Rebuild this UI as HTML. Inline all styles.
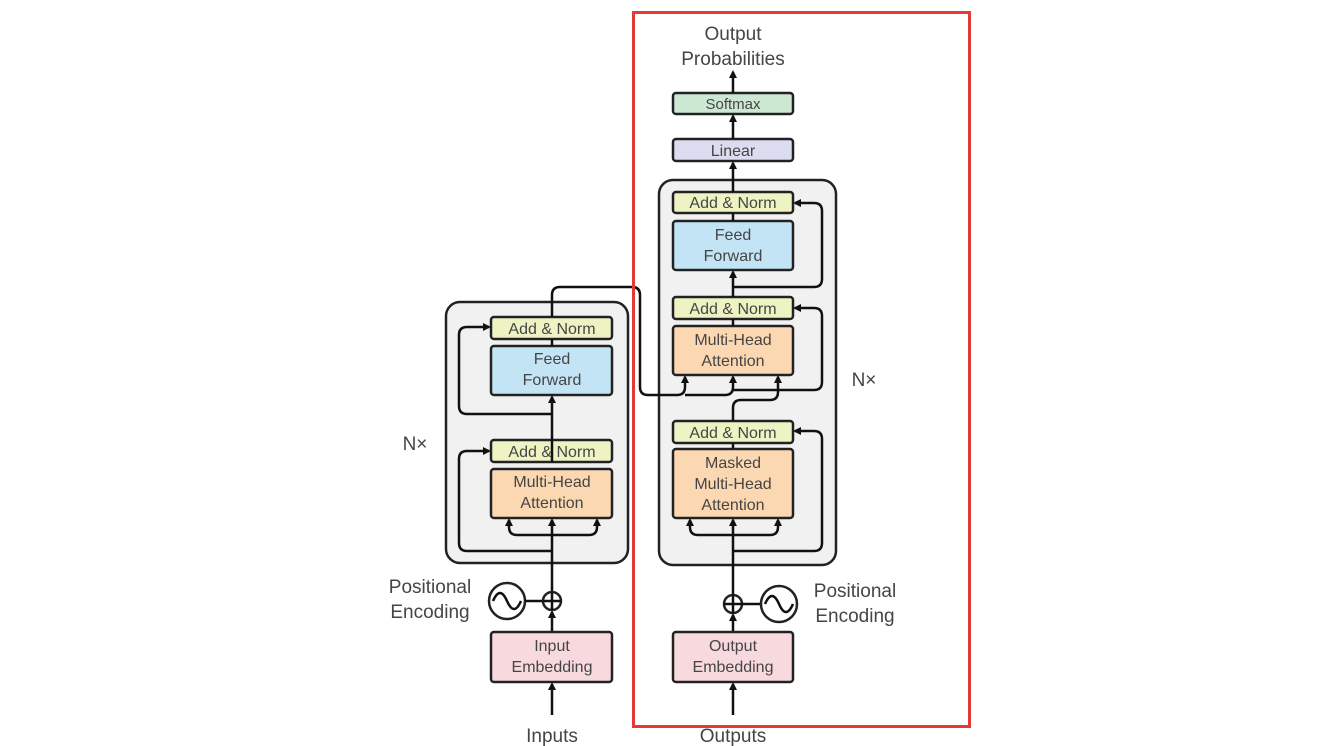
<!DOCTYPE html>
<html><head><meta charset="utf-8"><style>
html,body{margin:0;padding:0;background:#fff;}
svg{display:block;}
text{font-family:"Liberation Sans",sans-serif;font-size:16px;fill:#454545;text-anchor:middle;}
.o{font-size:19px;}
.b{stroke:#222;stroke-width:2.5;}
.l{stroke:#111;stroke-width:2.5;fill:none;}
</style></head><body>
<svg width="1322" height="746" viewBox="0 0 1322 746" xmlns="http://www.w3.org/2000/svg">
<defs><marker id="a" markerWidth="8" markerHeight="8" refX="6" refY="4" orient="auto" markerUnits="userSpaceOnUse"><path d="M0,0 L8,4 L0,8 Z" fill="#111"/></marker></defs>

<!-- encoder -->
<rect x="446" y="302" width="182" height="261" rx="14" fill="#f1f1f1" class="b"/>
<rect x="491" y="317" width="121" height="22" rx="3" fill="#eef3c4" class="b"/>
<text x="552" y="334">Add &amp; Norm</text>
<rect x="491" y="346" width="121" height="49" rx="3" fill="#c3e4f4" class="b"/>
<text x="552" y="364">Feed</text><text x="552" y="385">Forward</text>
<rect x="491" y="440" width="121" height="22" rx="3" fill="#eef3c4" class="b"/>
<text x="552" y="457">Add &amp; Norm</text>
<rect x="491" y="469" width="121" height="49" rx="3" fill="#fbd8b2" class="b"/>
<text x="552" y="487">Multi-Head</text><text x="552" y="508">Attention</text>
<path class="l" d="M552,715 V684" marker-end="url(#a)"/>
<path class="l" d="M552,632 V612" marker-end="url(#a)"/>
<path class="l" d="M552,592 V520" marker-end="url(#a)"/>
<path class="l" d="M552,535 H517 q-8,0 -8,-8 V520" marker-end="url(#a)"/>
<path class="l" d="M552,535 H589 q8,0 8,-8 V520" marker-end="url(#a)"/>
<path class="l" d="M552,551 H467 q-8,0 -8,-8 V459 q0,-8 8,-8 H489" marker-end="url(#a)"/>
<path class="l" d="M552,462 V397" marker-end="url(#a)"/>
<path class="l" d="M552,339 V346"/>
<path class="l" d="M552,414 H467 q-8,0 -8,-8 V335 q0,-8 8,-8 H489" marker-end="url(#a)"/>
<text x="415" y="450" class="o">N×</text>
<circle cx="507" cy="601" r="18" fill="#fff" class="b"/>
<path class="l" d="M493,601 q7,-16 14,0 t14,0" stroke-width="2"/>
<path class="l" d="M525,601 H543"/>
<circle cx="552" cy="601" r="9" fill="#fff" class="b"/>
<path class="l" d="M543,601 H561 M552,592 V610" stroke-width="2"/>
<text x="430" y="593" class="o">Positional</text><text x="430" y="618" class="o">Encoding</text>
<rect x="491" y="632" width="121" height="50" rx="3" fill="#f8d9de" class="b"/>
<text x="552" y="651">Input</text><text x="552" y="672">Embedding</text>
<text x="552" y="742" class="o">Inputs</text>

<!-- decoder -->
<rect x="659" y="180" width="177" height="385" rx="14" fill="#f1f1f1" class="b"/>
<rect x="673" y="93" width="120" height="21" rx="3" fill="#cce8d2" class="b"/>
<text x="733" y="109" style="font-size:15px">Softmax</text>
<rect x="673" y="139" width="120" height="22" rx="3" fill="#dcdcf0" class="b"/>
<text x="733" y="156">Linear</text>
<rect x="673" y="192" width="120" height="21" rx="3" fill="#eef3c4" class="b"/>
<text x="733" y="208">Add &amp; Norm</text>
<rect x="673" y="221" width="120" height="49" rx="3" fill="#c3e4f4" class="b"/>
<text x="733" y="240">Feed</text><text x="733" y="261">Forward</text>
<rect x="673" y="297" width="120" height="22" rx="3" fill="#eef3c4" class="b"/>
<text x="733" y="314">Add &amp; Norm</text>
<rect x="673" y="326" width="120" height="49" rx="3" fill="#fbd8b2" class="b"/>
<text x="733" y="345">Multi-Head</text><text x="733" y="366">Attention</text>
<rect x="673" y="421" width="120" height="22" rx="3" fill="#eef3c4" class="b"/>
<text x="733" y="438">Add &amp; Norm</text>
<rect x="673" y="449" width="120" height="69" rx="3" fill="#fbd8b2" class="b"/>
<text x="733" y="468">Masked</text><text x="733" y="489">Multi-Head</text><text x="733" y="510">Attention</text>
<path class="l" d="M552,317 V295 q0,-8 8,-8 H632 q8,0 8,8 V387 q0,8 8,8 H677 q8,0 8,-8 V377" marker-end="url(#a)"/>
<path class="l" d="M685,395 H725 q8,0 8,-8 V377" marker-end="url(#a)"/>
<path class="l" d="M733,93 V72" marker-end="url(#a)"/>
<path class="l" d="M733,139 V116" marker-end="url(#a)"/>
<path class="l" d="M733,192 V163" marker-end="url(#a)"/>
<path class="l" d="M733,213 V221"/>
<path class="l" d="M733,297 V272" marker-end="url(#a)"/>
<path class="l" d="M733,319 V326"/>
<path class="l" d="M733,443 V449"/>
<path class="l" d="M733,421 V408 q0,-8 8,-8 H770 q8,0 8,-8 V377" marker-end="url(#a)"/>
<path class="l" d="M733,287 H814 q8,0 8,-8 V211 q0,-8 -8,-8 H795" marker-end="url(#a)"/>
<path class="l" d="M733,390 H814 q8,0 8,-8 V316 q0,-8 -8,-8 H795" marker-end="url(#a)"/>
<path class="l" d="M733,551 H814 q8,0 8,-8 V439 q0,-8 -8,-8 H795" marker-end="url(#a)"/>
<path class="l" d="M733,595 V520" marker-end="url(#a)"/>
<path class="l" d="M733,535 H698 q-8,0 -8,-8 V520" marker-end="url(#a)"/>
<path class="l" d="M733,535 H770 q8,0 8,-8 V520" marker-end="url(#a)"/>
<path class="l" d="M733,715 V684" marker-end="url(#a)"/>
<path class="l" d="M733,632 V615" marker-end="url(#a)"/>
<circle cx="733" cy="604" r="9" fill="#fff" class="b"/>
<path class="l" d="M724,604 H742 M733,595 V613" stroke-width="2"/>
<path class="l" d="M742,604 H761"/>
<circle cx="779" cy="604" r="18" fill="#fff" class="b"/>
<path class="l" d="M765,604 q7,-16 14,0 t14,0" stroke-width="2"/>
<text x="855" y="597" class="o">Positional</text><text x="855" y="622" class="o">Encoding</text>
<rect x="673" y="632" width="120" height="50" rx="3" fill="#f8d9de" class="b"/>
<text x="733" y="651">Output</text><text x="733" y="672">Embedding</text>
<text x="864" y="386" class="o">N×</text>
<text x="733" y="40" class="o">Output</text><text x="733" y="65" class="o">Probabilities</text>
<text x="733" y="742" class="o">Outputs</text>

<rect x="633.5" y="12.5" width="336" height="714" fill="none" stroke="#e53935" stroke-width="3"/>
</svg>
</body></html>
